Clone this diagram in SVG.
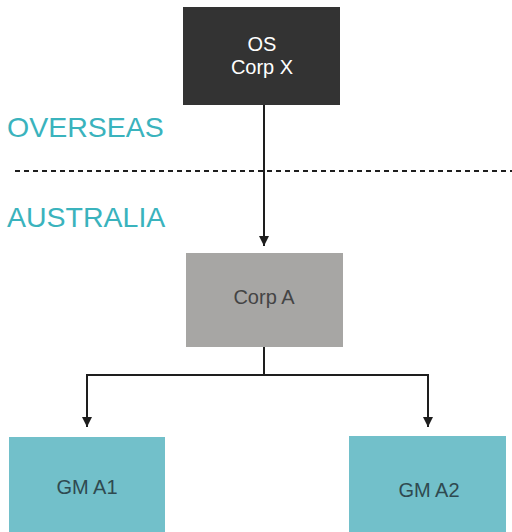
<svg xmlns="http://www.w3.org/2000/svg" width="512" height="532" viewBox="0 0 512 532">
  <style>
    .lbl { font-family: "Liberation Sans", Arial, sans-serif; text-anchor: middle; font-size: 20px; }
    .region { font-family: "Liberation Sans", Arial, sans-serif; font-size: 28.5px; fill: #3ab3bd; }
    .conn { fill: none; stroke: #1e1e1e; stroke-width: 2; }
  </style>
  <defs>
    <marker id="tip" viewBox="0 0 10 10" refX="10" refY="5" markerWidth="10" markerHeight="10" markerUnits="userSpaceOnUse" orient="auto">
      <path d="M0,0 L10,5 L0,10 Z" fill="#1e1e1e"/>
    </marker>
  </defs>

  <rect width="512" height="532" fill="#ffffff"/>

  <!-- region labels and border -->
  <text class="region" x="7" y="137">OVERSEAS</text>
  <line x1="15" y1="171" x2="512" y2="171" stroke="#1e1e1e" stroke-width="2" stroke-dasharray="5 4"/>
  <text class="region" x="7" y="227">AUSTRALIA</text>

  <!-- connectors -->
  <g id="connectors">
    <path class="conn" d="M264,104 V246" marker-end="url(#tip)"/>
    <path class="conn" d="M264,347 V375 H87 V427" marker-end="url(#tip)"/>
    <path class="conn" d="M264,375 H428 V427" marker-end="url(#tip)"/>
  </g>

  <g id="os-corp-x">
    <rect x="183" y="7" width="157" height="98" fill="#333333"/>
    <text class="lbl" x="262" y="51" fill="#ffffff">OS</text>
    <text class="lbl" x="262" y="74" fill="#ffffff">Corp X</text>
  </g>

  <g id="corp-a">
    <rect x="186" y="253" width="157" height="94" fill="#a7a6a4"/>
    <text class="lbl" x="264" y="304" fill="#444444">Corp A</text>
  </g>

  <g id="gm-a1">
    <rect x="9" y="437" width="156" height="100" fill="#72c0ca"/>
    <text class="lbl" x="87" y="494" fill="#2f4a50">GM A1</text>
  </g>

  <g id="gm-a2">
    <rect x="349" y="436" width="157" height="100" fill="#72c0ca"/>
    <text class="lbl" x="429" y="497" fill="#2f4a50">GM A2</text>
  </g>
</svg>
